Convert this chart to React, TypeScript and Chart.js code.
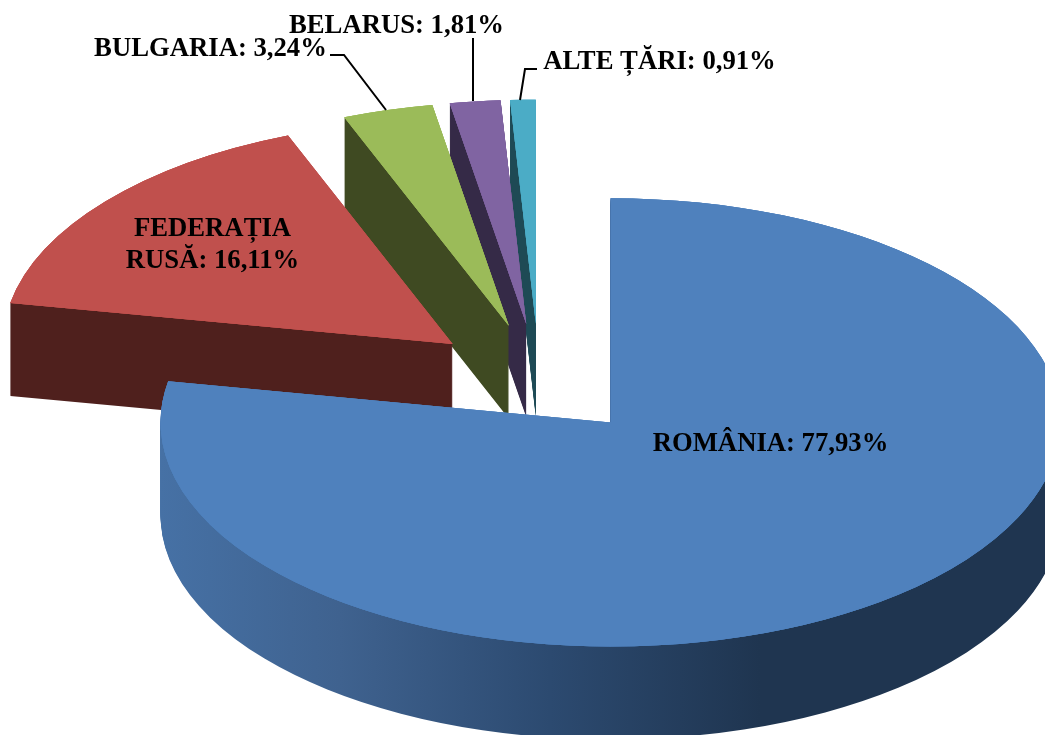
import React, { useEffect, useRef } from "react";
import { Chart, registerables } from "chart.js";

Chart.register(...registerables);

const categories = ["ROMÂNIA", "FEDERAȚIA RUSĂ", "BULGARIA", "BELARUS", "ALTE ȚĂRI"];
const shares = [77.93, 16.11, 3.24, 1.81, 0.91];

const faceColors = ["#4f81bd", "#c0504d", "#9bbb59", "#8064a2", "#4bacc6"];
const wallColors = ["#1f3550", "#4f201d", "#3f4a22", "#352a47", "#1e4a55"];
const drawOrder = [4, 3, 2, 1, 0];

const TILT = 0.498;
const DEPTH = 93;
const RADIUS = 450;
const EXPLODE = 112;
const FONT = 'bold 26.7px "Liberation Serif"';

const fmt = (v: number) => v.toFixed(2).replace(".", ",") + "%";

const labelPlacement = [
  { lines: [`${categories[0]}: ${fmt(shares[0])}`], x: 770.5, y: 451 },
  { lines: ["FEDERAȚIA", `RUSĂ: ${fmt(shares[1])}`], x: 212.5, y: 236 },
  { lines: [`${categories[2]}: ${fmt(shares[2])}`], x: 210.5, y: 56 },
  { lines: [`${categories[3]}: ${fmt(shares[3])}`], x: 396.5, y: 33 },
  { lines: [`${categories[4]}: ${fmt(shares[4])}`], x: 659.5, y: 69 },
];

const leaders: number[][][] = [
  [[330, 55], [344, 55], [386, 110]],
  [[473, 38], [473, 101]],
  [[537, 69], [525, 69], [520, 100]],
];

const pie3d = {
  id: "pie3d",
  beforeDatasetsDraw(chart: any) {
    const ctx: CanvasRenderingContext2D = chart.ctx;
    const arcs = chart.getDatasetMeta(0).data;
    const cy = (chart.chartArea.top + chart.chartArea.bottom) / 2;
    const w = chart.width;
    const h = chart.height;

    const wallGradient = ctx.createLinearGradient(160, 0, 760, 0);
    wallGradient.addColorStop(0, "#4671a5");
    wallGradient.addColorStop(0.3, "#3f628f");
    wallGradient.addColorStop(0.65, "#2c4a70");
    wallGradient.addColorStop(1, "#1f3550");

    const paint = (target: CanvasRenderingContext2D, arc: any, fill: any, dy: number) => {
      const twin = Object.create(arc);
      twin.options = {
        backgroundColor: fill,
        borderColor: fill,
        borderWidth: 0,
        borderAlign: "center",
        borderRadius: 0,
        borderJoinStyle: "round",
        offset: 0,
        spacing: 0,
        circular: true,
      };
      const mid = (arc.startAngle + arc.endAngle) / 2;
      target.save();
      target.translate(0, cy + dy);
      target.scale(1, TILT);
      target.translate(0, -cy);
      target.translate(Math.cos(mid) * EXPLODE, Math.sin(mid) * EXPLODE);
      twin.draw(target);
      target.restore();
    };

    for (const i of drawOrder) {
      const arc = arcs[i];
      // The wall is swept on its own layer, then recoloured as one flat fill,
      // so the many overlapping edges leave no stripes behind.
      const layer = document.createElement("canvas");
      layer.width = w;
      layer.height = h;
      const lctx = layer.getContext("2d")!;
      for (let d = DEPTH; d >= 1; d--) paint(lctx, arc, "#000", d);
      lctx.globalCompositeOperation = "source-atop";
      lctx.fillStyle = i === 0 ? wallGradient : wallColors[i];
      lctx.fillRect(0, 0, w, h);
      ctx.drawImage(layer, 0, 0);
      for (let n = 0; n < 3; n++) paint(ctx, arc, faceColors[i], 0);
    }
    return false;
  },
  afterDraw(chart: any) {
    const ctx: CanvasRenderingContext2D = chart.ctx;
    ctx.save();
    ctx.strokeStyle = "#000";
    ctx.lineWidth = 2;
    for (const path of leaders) {
      ctx.beginPath();
      path.forEach(([x, y], k) => (k ? ctx.lineTo(x, y) : ctx.moveTo(x, y)));
      ctx.stroke();
    }
    ctx.font = FONT;
    ctx.fillStyle = "#000";
    ctx.textAlign = "center";
    ctx.textBaseline = "alphabetic";
    for (const label of labelPlacement) {
      label.lines.forEach((line, k) => ctx.fillText(line, label.x, label.y + k * 31.5));
    }
    ctx.restore();
  },
};

export default function App() {
  const ref = useRef<HTMLCanvasElement>(null);
  useEffect(() => {
    const chart = new Chart(ref.current!, {
      type: "pie",
      data: {
        labels: categories,
        datasets: [
          {
            data: shares,
            backgroundColor: faceColors,
            borderWidth: 0,
          },
        ],
      },
      options: {
        responsive: false,
        animation: false,
        radius: RADIUS,
        layout: { padding: { left: 33, top: 24, right: 0, bottom: 0 } },
        plugins: { legend: { display: false }, tooltip: { enabled: false } },
      } as any,
      plugins: [pie3d as any],
    });
    return () => chart.destroy();
  }, []);
  return (
    <canvas
      ref={ref}
      width={1045}
      height={735}
      style={{ position: "absolute", left: 0, top: 0, display: "block" }}
    />
  );
}
